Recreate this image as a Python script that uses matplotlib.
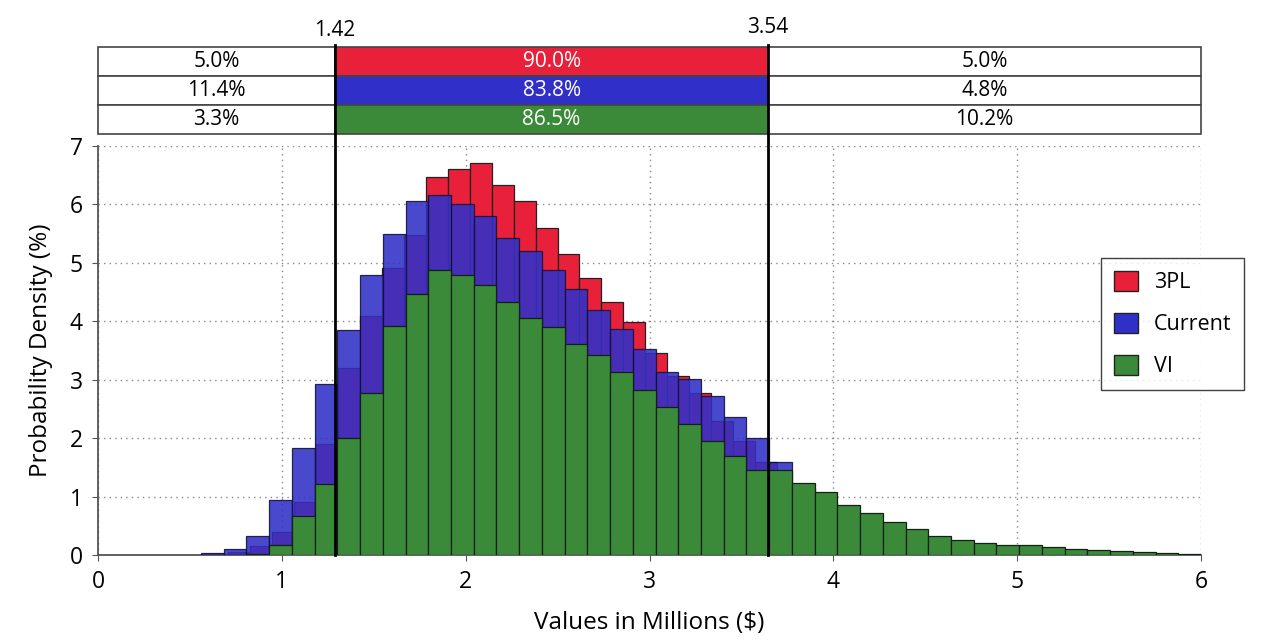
import numpy as np
import matplotlib
matplotlib.use('Agg')
import matplotlib.pyplot as plt
from matplotlib.patches import Patch, Rectangle
from matplotlib.lines import Line2D
from matplotlib.transforms import blended_transform_factory

plt.rcParams['font.family'] = ['Open Sans', 'DejaVu Sans']

# histogram heights in % per bin
pdf_3pl = [0.02, 0.05, 0.15, 0.4, 0.9, 1.9, 3.2, 4.09, 4.92, 5.48,
           6.47, 6.6, 6.71, 6.34, 6.06, 5.59, 5.15, 4.74, 4.33, 3.98,
           3.46, 3.07, 2.78, 2.3, 1.95, 1.6, 1.2, 1.0, 0.8, 0.62,
           0.48, 0.37, 0.28, 0.21, 0.16, 0.12, 0.09, 0.07, 0.05, 0.04,
           0.03, 0.02, 0.015, 0.01, 0.005]
pdf_current = [0.03, 0.1, 0.33, 0.94, 1.83, 2.93, 3.85, 4.8, 5.5, 6.06,
               6.16, 6.01, 5.8, 5.43, 5.21, 4.87, 4.56, 4.2, 3.86, 3.52,
               3.14, 3.01, 2.72, 2.37, 2.0, 1.6, 1.15, 0.9, 0.7, 0.55,
               0.42, 0.32, 0.24, 0.18, 0.13, 0.1, 0.07, 0.05, 0.04, 0.03,
               0.02, 0.015, 0.01, 0.005]
pdf_vi = [0.0, 0.0, 0.02, 0.17, 0.67, 1.21, 2.0, 2.77, 3.92, 4.47,
          4.88, 4.79, 4.62, 4.33, 4.05, 3.91, 3.61, 3.43, 3.13, 2.83,
          2.53, 2.24, 1.95, 1.7, 1.45, 1.45, 1.24, 1.07, 0.85, 0.72,
          0.57, 0.45, 0.33, 0.26, 0.2, 0.17, 0.17, 0.13, 0.11, 0.09,
          0.07, 0.05, 0.04, 0.02]

# bins: first edge and bin width (millions)
bins_3pl = (0.586, 0.1196)
bins_other = (0.56, 0.12364)

series_names = ['3PL', 'Current', 'VI']
left_pct = ['5.0%', '11.4%', '3.3%']
mid_pct = ['90.0%', '83.8%', '86.5%']
right_pct = ['5.0%', '4.8%', '10.2%']

cut_pos = [1.29, 3.645]
cut_labels = ['1.42', '3.54']

colors = ['#e8203a', '#3030c8', '#3a8a3a']

fig = plt.figure(figsize=(12.8, 6.43), dpi=100)
ax = fig.add_axes([98/1280, 1 - 555/643, 1103/1280, 409/643])


def edges(start, width, n):
    return start + width * np.arange(n)


ax.bar(edges(*bins_3pl, len(pdf_3pl)), pdf_3pl, width=bins_3pl[1], align='edge',
       color=colors[0], edgecolor='#222222', linewidth=0.9, zorder=2)
ax.bar(edges(*bins_other, len(pdf_current)), pdf_current, width=bins_other[1], align='edge',
       color=colors[1], alpha=0.88, edgecolor='#111133', linewidth=0.9, zorder=3)
ax.bar(edges(*bins_other, len(pdf_vi)), pdf_vi, width=bins_other[1], align='edge',
       color=colors[2], edgecolor='#142014', linewidth=0.9, zorder=4)

ax.set_xlim(0, 6)
ax.set_ylim(0, 7)
ax.set_xticks(range(0, 7))
ax.set_yticks(range(0, 8))
ax.tick_params(labelsize=16.5, length=4, pad=7, color='#555555')
ax.grid(True, linestyle=(0, (1, 3)), color='#888888', linewidth=1.0, zorder=0)
ax.set_axisbelow(True)
for s in ['top', 'right']:
    ax.spines[s].set_visible(False)
for s in ['left', 'bottom']:
    ax.spines[s].set_color('#555555')
    ax.spines[s].set_linewidth(1.3)

ax.set_xlabel('Values in Millions ($)', fontsize=17.5, labelpad=12)
ax.set_ylabel('Probability Density (%)', fontsize=17.5, labelpad=12)

handles = [Patch(facecolor=c, edgecolor='#222222', linewidth=1.0) for c in colors]
leg = ax.legend(handles, series_names, loc='center left', bbox_to_anchor=(0.9093, 0.565),
                fontsize=15.5, frameon=True, fancybox=False, edgecolor='#111111',
                handlelength=1.1, handleheight=1.1, labelspacing=0.9,
                handletextpad=0.75, borderpad=0.6, borderaxespad=0.0)
leg.get_frame().set_linewidth(1.0)
leg.set_zorder(10)

# percentage table above the plot
tab = fig.add_axes([98/1280, 1 - 134/643, 1103/1280, 87/643])
tab.set_xlim(0, 6)
tab.set_ylim(0, 3)
tab.axis('off')
xs = [0, cut_pos[0], cut_pos[1], 6]
for i in range(3):
    y0 = 2 - i
    for j, txt in enumerate([left_pct[i], mid_pct[i], right_pct[i]]):
        fc = colors[i] if j == 1 else 'white'
        tab.add_patch(Rectangle((xs[j], y0), xs[j + 1] - xs[j], 1, facecolor=fc,
                                edgecolor='#444444', linewidth=1.2, clip_on=False))
        tab.text((xs[j] + xs[j + 1]) / 2, y0 + 0.5, txt, ha='center', va='center',
                 fontsize=15, color='white' if j == 1 else 'black')

# cut-off lines through table and plot
trans = blended_transform_factory(ax.transData, fig.transFigure)
for x, lab, yl in zip(cut_pos, cut_labels, [0.953, 0.958]):
    fig.add_artist(Line2D([x, x], [1 - 45/643, 1 - 555/643], transform=trans,
                          color='black', linewidth=2.0, zorder=20))
    fig.text(x, yl, lab, transform=trans, ha='center', va='center', fontsize=15)

fig.savefig('out.png', dpi=100)
